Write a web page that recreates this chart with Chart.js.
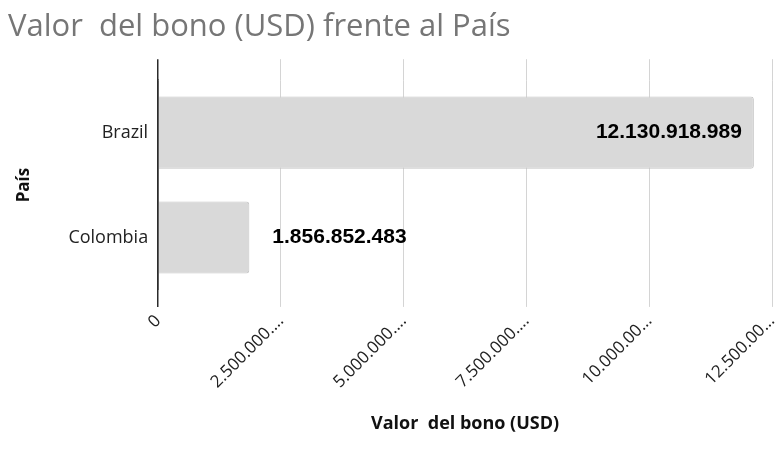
<!DOCTYPE html>
<html>
<head>
<meta charset="utf-8">
<script src="https://cdn.jsdelivr.net/npm/chart.js@4"></script>
<style>
  html, body { margin: 0; padding: 0; background: #fff; }
  #wrap { width: 783px; height: 462px; position: relative; }
</style>
</head>
<body>
<div id="wrap"><canvas id="bonoChart"></canvas></div>
<script>
const paises = ['Brazil', 'Colombia'];
const valorBono = [12130918989, 1856852483];
const valorLabels = ['12.130.918.989', '1.856.852.483'];
const xTickLabels = ['0', '2.500.000....', '5.000.000....', '7.500.000....', '10.000.00...', '12.500.00...'];

const axisDark = '#2b2b2b';
const gridGrey = '#d4d4d4';

// draws the value next to / inside each bar
const valueLabels = {
  id: 'valueLabels',
  afterDatasetsDraw(chart) {
    const ctx = chart.ctx;
    const meta = chart.getDatasetMeta(0);
    ctx.save();
    ctx.font = 'bold 21px "Liberation Sans", Arial, sans-serif';
    ctx.fillStyle = '#000';
    ctx.textBaseline = 'middle';
    meta.data.forEach((bar, i) => {
      const txt = valorLabels[i];
      const w = ctx.measureText(txt).width;
      if (bar.x - bar.base > w + 40) {
        ctx.textAlign = 'right';
        ctx.fillText(txt, bar.x - 12, bar.y);
      } else {
        ctx.textAlign = 'left';
        ctx.fillText(txt, bar.x + 23, bar.y);
      }
    });
    ctx.restore();
  }
};

const ctx = document.getElementById('bonoChart').getContext('2d');
const chart = new Chart(ctx, {
  type: 'bar',
  data: {
    labels: paises,
    datasets: [{
      label: 'Valor  del bono (USD)',
      data: valorBono,
      backgroundColor: '#d9d9d9',
      borderColor: '#c6c6c6',
      borderWidth: 1,
      borderRadius: 3,
      borderSkipped: 'start',
      barPercentage: 0.86,
      categoryPercentage: 0.8
    }]
  },
  options: {
    indexAxis: 'y',
    responsive: true,
    maintainAspectRatio: false,
    animation: false,
    layout: { padding: { left: 8, right: 0, top: 0, bottom: 27 } },
    scales: {
      x: {
        min: 0,
        max: 12500000000,
        afterFit: (s) => { s.paddingRight = 11; },
        ticks: {
          stepSize: 2500000000,
          minRotation: 45,
          maxRotation: 45,
          color: '#222',
          font: { family: '"Open Sans"', size: 17 },
          padding: 4,
          callback: (v, i) => xTickLabels[i]
        },
        grid: {
          color: (c) => c.index === 0 ? axisDark : gridGrey,
          lineWidth: (c) => c.index === 0 ? 1.5 : 1,
          tickLength: 17
        },
        border: { display: false },
        title: {
          display: true,
          text: 'Valor  del bono (USD)',
          color: '#111',
          font: { family: '"Open Sans"', size: 18, weight: 'bold' },
          padding: { top: 17, bottom: 0 }
        }
      },
      // top axis only to extend the grid lines above the plot
      xTop: {
        position: 'top',
        min: 0,
        max: 12500000000,
        afterFit: (s) => { s.paddingRight = 11; },
        ticks: { stepSize: 2500000000, display: false },
        grid: {
          drawOnChartArea: false,
          color: (c) => c.index === 0 ? axisDark : gridGrey,
          lineWidth: (c) => c.index === 0 ? 1.5 : 1,
          tickLength: 21
        },
        border: { display: false }
      },
      y: {
        ticks: {
          color: '#222',
          font: { family: '"Open Sans"', size: 18 },
          padding: 10
        },
        grid: { display: false, drawTicks: false, tickLength: 0 },
        border: { display: true, color: axisDark, width: 1.5 },
        title: {
          display: true,
          text: 'País',
          color: '#111',
          font: { family: '"Open Sans"', size: 17, weight: 'bold' },
          padding: { top: 6, bottom: 24 }
        }
      }
    },
    plugins: {
      legend: { display: false },
      tooltip: { enabled: false },
      title: {
        display: true,
        text: 'Valor  del bono (USD) frente al País',
        align: 'start',
        color: '#767676',
        font: { family: '"Open Sans"', size: 31, weight: 'normal' },
        padding: { top: 9, bottom: 13 }
      }
    }
  },
  plugins: [valueLabels]
});
</script>
</body>
</html>
